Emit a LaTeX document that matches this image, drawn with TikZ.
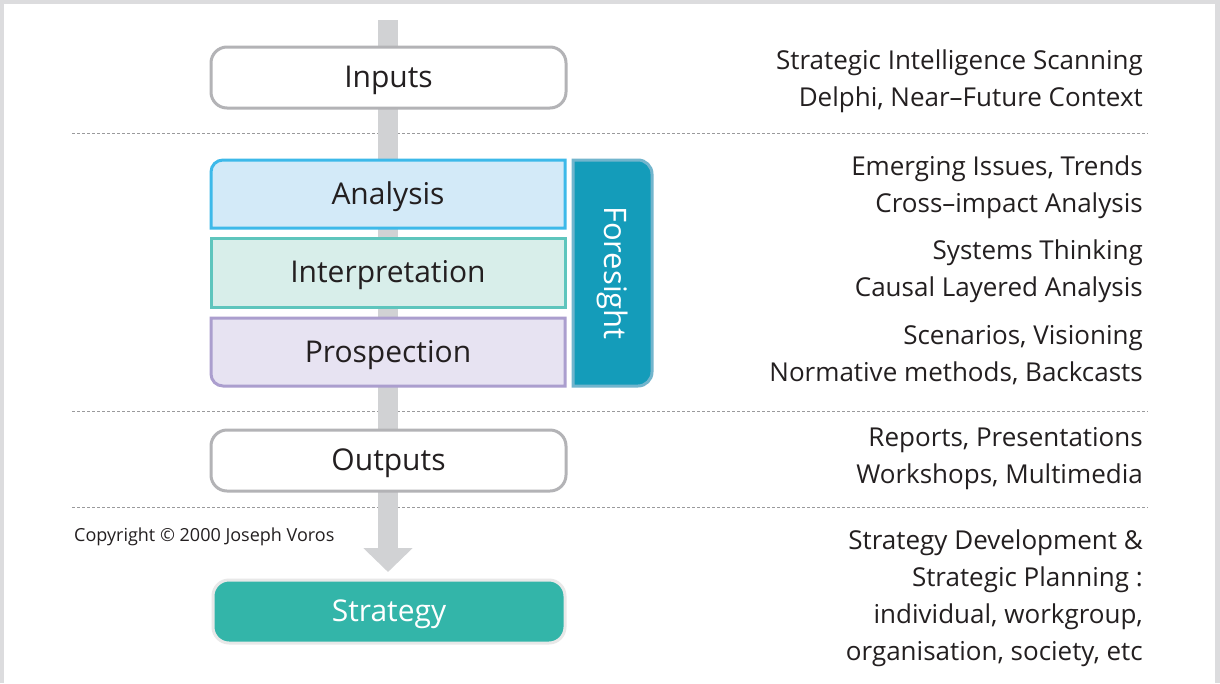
\documentclass[tikz,border=0pt]{standalone}
\usepackage{fontspec}
\setmainfont{Open Sans}
\usetikzlibrary{arrows.meta}
\definecolor{framegray}{HTML}{DCDCDE}
\definecolor{barcol}{HTML}{D1D2D4}
\definecolor{boxgray}{HTML}{B3B3B6}
\definecolor{txt}{HTML}{231F20}
\definecolor{anaB}{HTML}{3DB9E9}
\definecolor{anaF}{HTML}{D3EAF8}
\definecolor{intB}{HTML}{5EC5BD}
\definecolor{intF}{HTML}{D8EEEA}
\definecolor{proB}{HTML}{AB9ECE}
\definecolor{proF}{HTML}{E7E3F2}
\definecolor{forF}{HTML}{149CBA}
\definecolor{forB}{HTML}{72B5CD}
\definecolor{strF}{HTML}{33B5A9}
\definecolor{strB}{HTML}{E8E8E8}
\definecolor{dashcol}{HTML}{9A9A9C}
\tikzset{
  x=1pt,y=-1pt,
  lbl/.style={font=\fontsize{30}{32}\selectfont, text=txt, inner sep=0pt},
  side/.style={font=\fontsize{26}{37}\selectfont, text=txt, align=right, anchor=east, inner sep=0pt},
  sep/.style={draw=dashcol, line width=0.8pt, dash pattern=on 3pt off 2pt},
  graybox/.style={draw=boxgray, line width=3pt, fill=white, rounded corners=16pt},
}
\begin{document}
\begin{tikzpicture}
\useasboundingbox (0,0) rectangle (1220,683);
\fill[framegray] (0,0) rectangle (1220,683);
\fill[white] (4,4) rectangle (1215,690);
% dashed separators
\draw[sep] (72,133) -- (1148,133);
\draw[sep] (72,411) -- (1148,411);
\draw[sep] (72,507) -- (1148,507);
% flow bar
\coordinate (bartop) at (388,20);
\coordinate (bartip) at (388,572);
\draw[barcol, line width=20pt, -{Triangle[width=48pt,length=24pt]}] (bartop) -- (bartip);
% Inputs
\draw[graybox] (211,47) rectangle (566,108);
\node[lbl] (inputs) at (388.5,80) {Inputs};
% Analysis
\draw[draw=anaB, fill=anaF, line width=3pt] (565,228) -- (211,228) -- (211,172) arc[start angle=180,end angle=90,radius=12pt] -- (565,160) -- cycle;
\node[lbl] (analysis) at (388,197) {Analysis};
% Interpretation
\draw[draw=intB, fill=intF, line width=3pt] (211,238) rectangle (565,307);
\node[lbl] (interp) at (388,275.5) {Interpretation};
% Prospection
\draw[draw=proB, fill=proF, line width=3pt] (565,318) -- (211,318) -- (211,374) arc[start angle=180,end angle=270,radius=12pt] -- (565,386) -- cycle;
\node[lbl] (prosp) at (388,355.5) {Prospection};
% Foresight
\draw[draw=forB, fill=forF, line width=3pt] (573,160) -- (638,160) arc[start angle=90,end angle=0,radius=14pt] -- (652,372) arc[start angle=0,end angle=-90,radius=14pt] -- (573,386) -- cycle;
\node[lbl, text=white, rotate=-90, font=\fontsize{31}{33}\selectfont] (foresight) at (612.5,273) {Foresight};
% Outputs
\draw[graybox] (211,430) rectangle (566,491);
\node[lbl] (outputs) at (388.5,463.5) {Outputs};
% Strategy
\draw[draw=strB, fill=strF, line width=3pt, rounded corners=16pt] (213,580) rectangle (565,643);
\node[lbl, text=white] (strategy) at (389,614.5) {Strategy};
% copyright
\node[font=\fontsize{18}{20}\selectfont, text=txt, anchor=base west, inner sep=0pt] (copy) at (74,541) {Copyright © 2000 Joseph Voros};
% side texts
\node[side] (s1) at (1143,81.5) {Strategic Intelligence Scanning\\Delphi, Near--Future Context};
\node[side] (s2) at (1143,187) {Emerging Issues, Trends\\Cross--impact Analysis};
\node[side] (s3) at (1143,271) {Systems Thinking\\Causal Layered Analysis};
\node[side] (s4) at (1143,355.5) {Scenarios, Visioning\\Normative methods, Backcasts};
\node[side] (s5) at (1143,459) {Reports, Presentations\\Workshops, Multimedia};
\node[side] (s6) at (1143,598) {Strategy Development \&\\Strategic Planning :\\individual, workgroup,\\organisation, society, etc};
\end{tikzpicture}
\end{document}
